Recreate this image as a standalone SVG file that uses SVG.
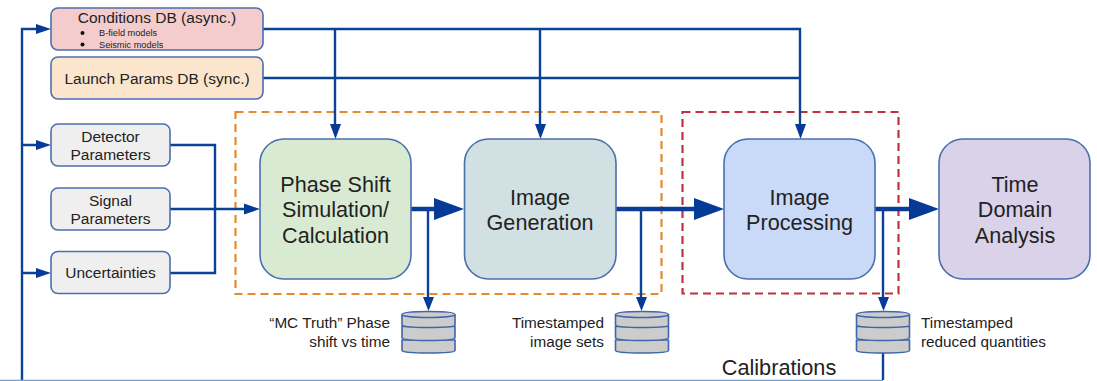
<svg xmlns="http://www.w3.org/2000/svg" width="1097" height="381" viewBox="0 0 1097 381">
<style>
text{font-family:"Liberation Sans",Arial,sans-serif;fill:#222;text-anchor:middle}
.n{stroke:#4a6fae;stroke-width:1.6}
.c{fill:none;stroke:#0b4296;stroke-width:2.4}
.t{fill:none;stroke:#0b3d96;stroke-width:4.5}
.h{fill:#063a97;stroke:none}
.s{font-size:15.5px}
.b{font-size:21.6px}
.l{font-size:15.3px}
.cy{fill:#cccccc;stroke:#3e66a8;stroke-width:1.6}
.d{fill:none;stroke-width:2.2;stroke-dasharray:8 5}
</style>
<g id="frames">
<rect x="235.5" y="112" width="426" height="182" class="d" stroke="#e68a2e"/>
<rect x="682.5" y="112" width="216" height="181.500" class="d" stroke="#c0323f"/>
</g>
<g id="connectors">
<path class="c" d="M22 380V29H37M22 145H37M22 273H37"/>
<path d="M0 380.500H883" fill="none" stroke="#6fa0d6" stroke-width="1.500"/>
<path class="c" d="M883 352V380" stroke-width="2"/>
<path class="c" d="M263 29H800V125M335 29V125M540 29V125M263 78H800"/>
<path class="c" d="M170 145H215V273H170M170 209H246"/>
<path class="t" d="M411 209H436M616 209H696M875 209H911"/>
<path class="c" d="M428 209V297M641 209V297M883 209V297"/>
<path class="h" d="M36 24L51 29L36 34ZM36 140L51 145L36 150ZM36 268L51 273L36 278Z"/>
<path class="h" d="M244 203.500L260 209L244 214.500Z"/>
<path class="h" d="M330 124H341L335.500 139ZM535 124H546L540.500 139ZM795 124H806L800.500 139Z"/>
<path class="h" d="M434 198L464 209L434 220ZM694 198L724 209L694 220ZM909 198L939 209L909 220Z"/>
<path class="h" d="M423 297H434L428.500 311ZM636 297H647L641.500 311ZM878 297H889L883.500 311Z"/>
</g>
<g id="conditions-db">
<rect x="51" y="8" width="212" height="42" rx="7" class="n" fill="#f4cccc"/>
<text x="157" y="23" class="s">Conditions DB (async.)</text>
<circle cx="82.500" cy="33" r="2" fill="#111"/><circle cx="82.500" cy="44.500" r="2" fill="#111"/>
<text x="99" y="36" font-size="9.200" style="text-anchor:start">B-field models</text>
<text x="99" y="47.500" font-size="9.200" style="text-anchor:start">Seismic models</text>
</g>
<g id="launch-db">
<rect x="51" y="57" width="212" height="42" rx="7" class="n" fill="#fce5cd"/>
<text x="157" y="84" class="s">Launch Params DB (sync.)</text>
</g>
<g id="detector">
<rect x="51" y="124" width="119" height="42" rx="7" class="n" fill="#efefef"/>
<text x="110.500" y="142" class="s">Detector</text><text x="110.500" y="160" class="s">Parameters</text>
</g>
<g id="signal">
<rect x="51" y="188" width="119" height="42" rx="7" class="n" fill="#efefef"/>
<text x="110.500" y="205.500" class="s">Signal</text><text x="110.500" y="224" class="s">Parameters</text>
</g>
<g id="uncertainties">
<rect x="51" y="251.500" width="119" height="42" rx="7" class="n" fill="#efefef"/>
<text x="110.500" y="278" class="s">Uncertainties</text>
</g>
<g id="phase-shift">
<rect x="260" y="139" width="151" height="140" rx="24" class="n" fill="#d9ead3"/>
<text x="335.500" y="191.500" class="b">Phase Shift</text><text x="335.500" y="216.500" class="b">Simulation/</text><text x="335.500" y="242.500" class="b">Calculation</text>
</g>
<g id="image-generation">
<rect x="464.500" y="139" width="151.500" height="140" rx="24" class="n" fill="#d0e0e3"/>
<text x="540" y="204.500" class="b">Image</text><text x="540" y="230" class="b">Generation</text>
</g>
<g id="image-processing">
<rect x="724" y="139" width="151" height="140" rx="24" class="n" fill="#c9daf8"/>
<text x="799.500" y="204.500" class="b">Image</text><text x="799.500" y="230" class="b">Processing</text>
</g>
<g id="time-domain">
<rect x="939" y="139" width="151" height="140" rx="24" class="n" fill="#d9d2e9"/>
<text x="1015" y="192" class="b">Time</text><text x="1015" y="217" class="b">Domain</text><text x="1015" y="243" class="b">Analysis</text>
</g>
<defs>
<g id="cyl">
<path class="cy" d="M0 28.500H53V39C53 41 40 41.500 26.500 41.500S0 41 0 39Z"/>
<path class="cy" d="M0 15H53V26C53 28.500 40 29 26.500 29S0 28.500 0 26Z"/>
<path class="cy" d="M0 3C0 .5 13 0 26.500 0S53 .5 53 3V13.500C53 15.500 40 16 26.500 16S0 15.500 0 13.500Z"/>
<path class="cy" fill="none" d="M0 3C0 5 13 6 26.500 6S53 5 53 3"/>
</g>
</defs>
<g id="mc-truth-store">
<use href="#cyl" x="402" y="311.500"/>
<text x="390" y="328" class="l" style="text-anchor:end">“MC Truth” Phase</text>
<text x="390" y="347" class="l" style="text-anchor:end">shift vs time</text>
</g>
<g id="image-sets-store">
<use href="#cyl" x="615.500" y="311.500"/>
<text x="604" y="328" class="l" style="text-anchor:end">Timestamped</text>
<text x="604" y="347" class="l" style="text-anchor:end">image sets</text>
</g>
<g id="reduced-store">
<use href="#cyl" x="856.500" y="311.500"/>
<text x="921" y="328" class="l" style="text-anchor:start">Timestamped</text>
<text x="921" y="347" class="l" style="text-anchor:start">reduced quantities</text>
</g>
<text x="779" y="375" font-size="21.700">Calibrations</text>
</svg>
